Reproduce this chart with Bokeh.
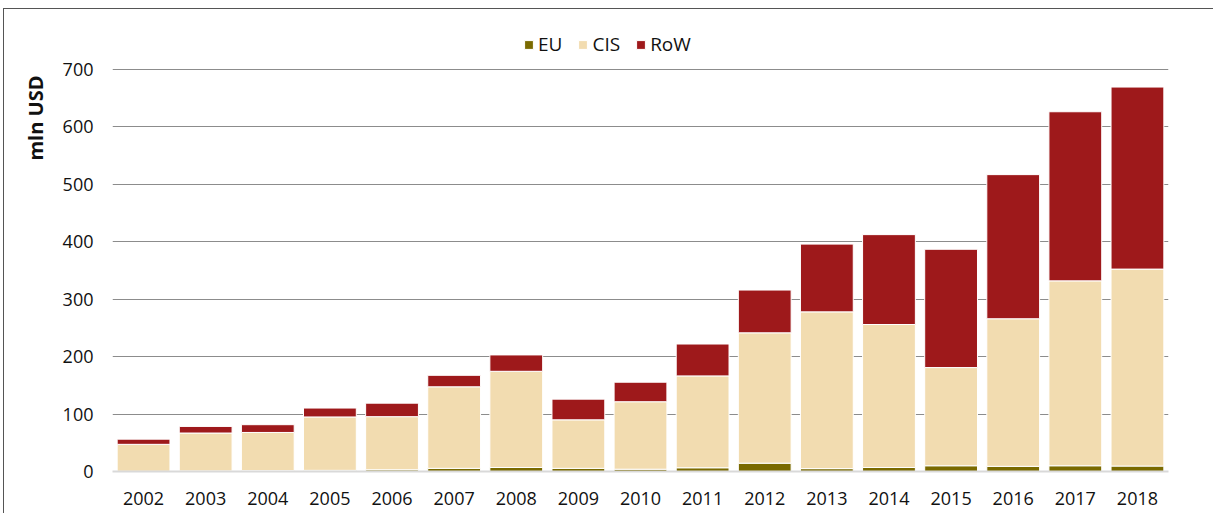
from bokeh.plotting import figure
from bokeh.models import Legend, LegendItem, Title, ColumnDataSource
from bokeh.embed import file_html
from bokeh.resources import INLINE

years = ["2002", "2003", "2004", "2005", "2006", "2007", "2008", "2009", "2010",
         "2011", "2012", "2013", "2014", "2015", "2016", "2017", "2018"]
eu = [0.3, 1, 1.5, 2, 3, 5.5, 7, 5.5, 4, 6.5, 14.5, 5, 7, 10, 9, 10, 9.5]
cis = [47, 66, 66.5, 93, 92.5, 142, 167.5, 84.5, 117.5, 160, 227, 273, 249, 171, 257, 322, 343]
row = [9, 11.5, 13.5, 15.5, 23.5, 20, 28.5, 36, 34, 55.5, 74.5, 118, 156.5, 206, 251, 294.5, 317]
series = ["EU", "CIS", "RoW"]
colors = ["#7a6a00", "#f2dcb0", "#9e191b"]
y_ticks = [0, 100, 200, 300, 400, 500, 600, 700]

FONT = "Open Sans"

src = ColumnDataSource(dict(year=years, EU=eu, CIS=cis, RoW=row))

p = figure(x_range=years, y_range=(0, 768), width=1210, height=505,
           output_backend="svg", toolbar_location=None,
           min_border_left=108, min_border_right=46, min_border_top=21,
           min_border_bottom=43)
p.margin = (8, 0, 0, 3)
p.stylesheets = [":host { border-top: 1px solid #555555; border-left: 1px solid #555555; }"]
p.x_range.range_padding = 0

renderers = p.vbar_stack(series, x="year", width=0.85, source=src,
                         fill_color=colors, line_color="white", line_width=1)

p.outline_line_color = None
p.xgrid.grid_line_color = None
p.ygrid.grid_line_color = "#8c8c8c"
p.ygrid.grid_line_width = 1
p.yaxis.ticker = y_ticks
p.yaxis.axis_line_color = None
p.yaxis.major_tick_line_color = None
p.yaxis.minor_tick_line_color = None
p.yaxis.major_tick_out = 0
p.yaxis.major_label_standoff = 19
p.xaxis.axis_line_color = "#d9d9d9"
p.xaxis.axis_line_width = 2
p.xaxis.major_tick_line_color = None
p.xaxis.major_label_standoff = 14
for ax in (p.xaxis, p.yaxis):
    ax.major_label_text_font = FONT
    ax.major_label_text_font_size = "18px"
    ax.major_label_text_color = "#111111"

title = Title(text="mln USD", align="right", text_font=FONT,
              text_font_size="20px", text_font_style="bold",
              text_color="#111111", offset=45, standoff=22)
p.add_layout(title, "left")

legend = Legend(items=[LegendItem(label=s, renderers=[r]) for s, r in zip(series, renderers)],
                orientation="horizontal", location=(411, 414),
                label_text_font=FONT, label_text_font_size="19px",
                label_text_color="#111111", glyph_width=11, glyph_height=11,
                label_standoff=4, spacing=15, border_line_color=None,
                background_fill_alpha=0, padding=0, margin=0)
p.add_layout(legend, "center")

open("out.html", "w").write(file_html(p, INLINE))
